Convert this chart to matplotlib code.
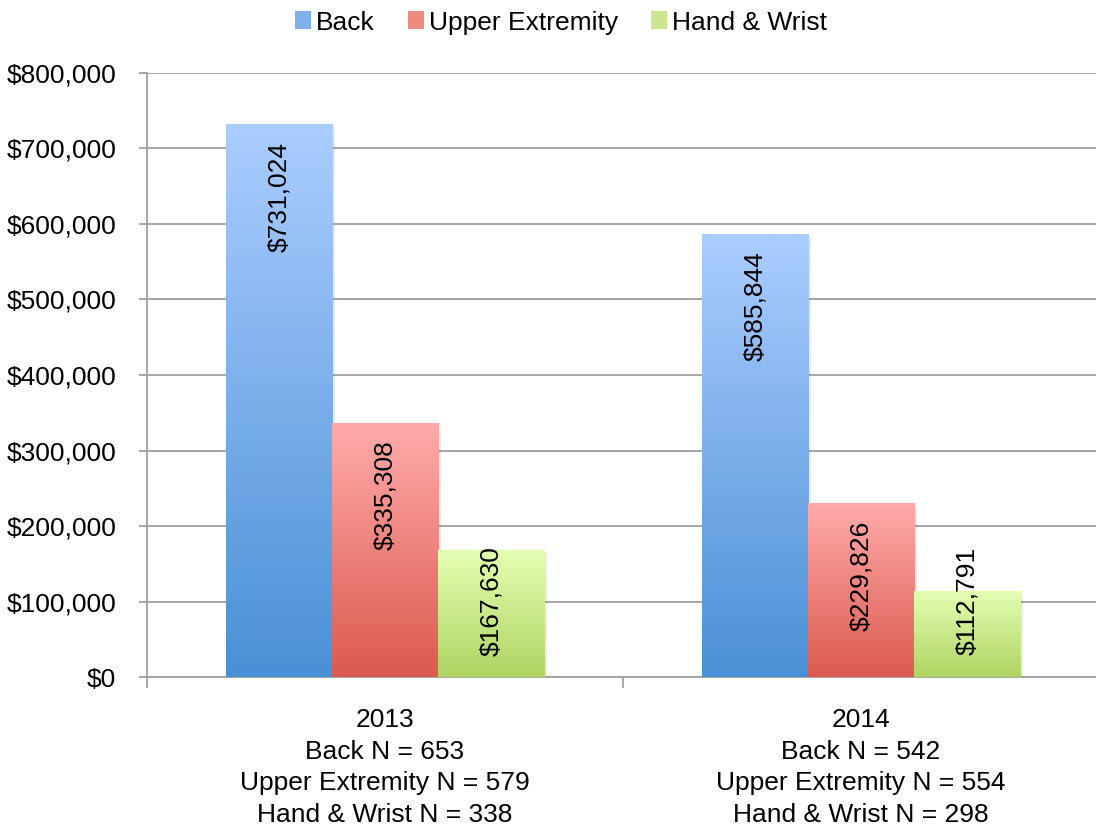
import matplotlib.pyplot as plt
import numpy as np
from matplotlib.colors import LinearSegmentedColormap
from matplotlib.patches import Patch, Rectangle

plt.rcParams['font.family'] = ['Liberation Sans', 'DejaVu Sans']

# data
years = ['2013', '2014']
series = ['Back', 'Upper Extremity', 'Hand & Wrist']
back = [731024, 585844]
upper = [335308, 229826]
hand = [167630, 112791]
back_n = [653, 542]
upper_n = [579, 554]
hand_n = [338, 298]

values = [back, upper, hand]
# (top colour, bottom colour) for each series gradient
grads = [('#abcdff', '#4a90d6'), ('#ffabab', '#db5a4e'), ('#e4ffb2', '#afd463')]
legend_colors = ['#7eb0ee', '#ef8a82', '#cbe68e']

fig = plt.figure(figsize=(10.96, 8.27), dpi=100)
ax = fig.add_axes([0.134, 0.181, 0.8686, 0.731])

x = np.arange(len(years))
w = 0.223
offsets = [-w, 0, w]

for vals, off, (top, bot) in zip(values, offsets, grads):
    cmap = LinearSegmentedColormap.from_list('g', [bot, top])
    bars = ax.bar(x + off, vals, w, color='none', zorder=3)
    for b, v in zip(bars, vals):
        x0 = b.get_x()
        # faint drop shadow
        ax.add_patch(Rectangle((x0 + 0.006, 0), w, v - 3000, color='#000000',
                               alpha=0.08, lw=0, zorder=2.5))
        grad = np.linspace(0, 1, 256).reshape(-1, 1)
        ax.imshow(grad, cmap=cmap, origin='lower', aspect='auto',
                  extent=(x0, x0 + w, 0, v), zorder=3)
        ytop = max(v - 22000, 173000)
        ax.text(x0 + w / 2, ytop, '${:,}'.format(v), rotation=90,
                ha='center', va='top', fontsize=19, zorder=4)

ax.set_xlim(-0.5, 1.5)
ax.set_ylim(0, 800000)
ax.set_yticks(np.arange(0, 800001, 100000))
ax.set_yticklabels(['${:,}'.format(t) for t in range(0, 800001, 100000)], fontsize=19)
ax.yaxis.grid(True, color='#a0a0a0', lw=1.3, zorder=0)
ax.set_axisbelow(True)

labels = ['{}\nBack N = {}\nUpper Extremity N = {}\nHand & Wrist N = {}'.format(y, a, b, c)
          for y, a, b, c in zip(years, back_n, upper_n, hand_n)]
ax.set_xticks(x)
ax.set_xticklabels(labels, fontsize=19, linespacing=1.41)
ax.tick_params(axis='x', which='major', length=0, pad=22)
ax.set_xticks([-0.5, 0.5, 1.5], minor=True)
ax.tick_params(axis='x', which='minor', length=8, color='#a0a0a0', width=1.3)
ax.tick_params(axis='y', length=6, color='#a0a0a0', width=1.3, pad=16)

for s in ['top', 'right']:
    ax.spines[s].set_visible(False)
for s in ['left', 'bottom']:
    ax.spines[s].set_color('#a0a0a0')
    ax.spines[s].set_linewidth(1.3)

handles = [Patch(facecolor=c, lw=0) for c in legend_colors]
fig.legend(handles, series, loc='upper center', bbox_to_anchor=(0.512, 1.016),
           ncol=3, frameon=False, fontsize=19, handlelength=0.6, handleheight=0.65,
           handletextpad=0.2, columnspacing=1.25)

plt.savefig('out.png', dpi=100)
